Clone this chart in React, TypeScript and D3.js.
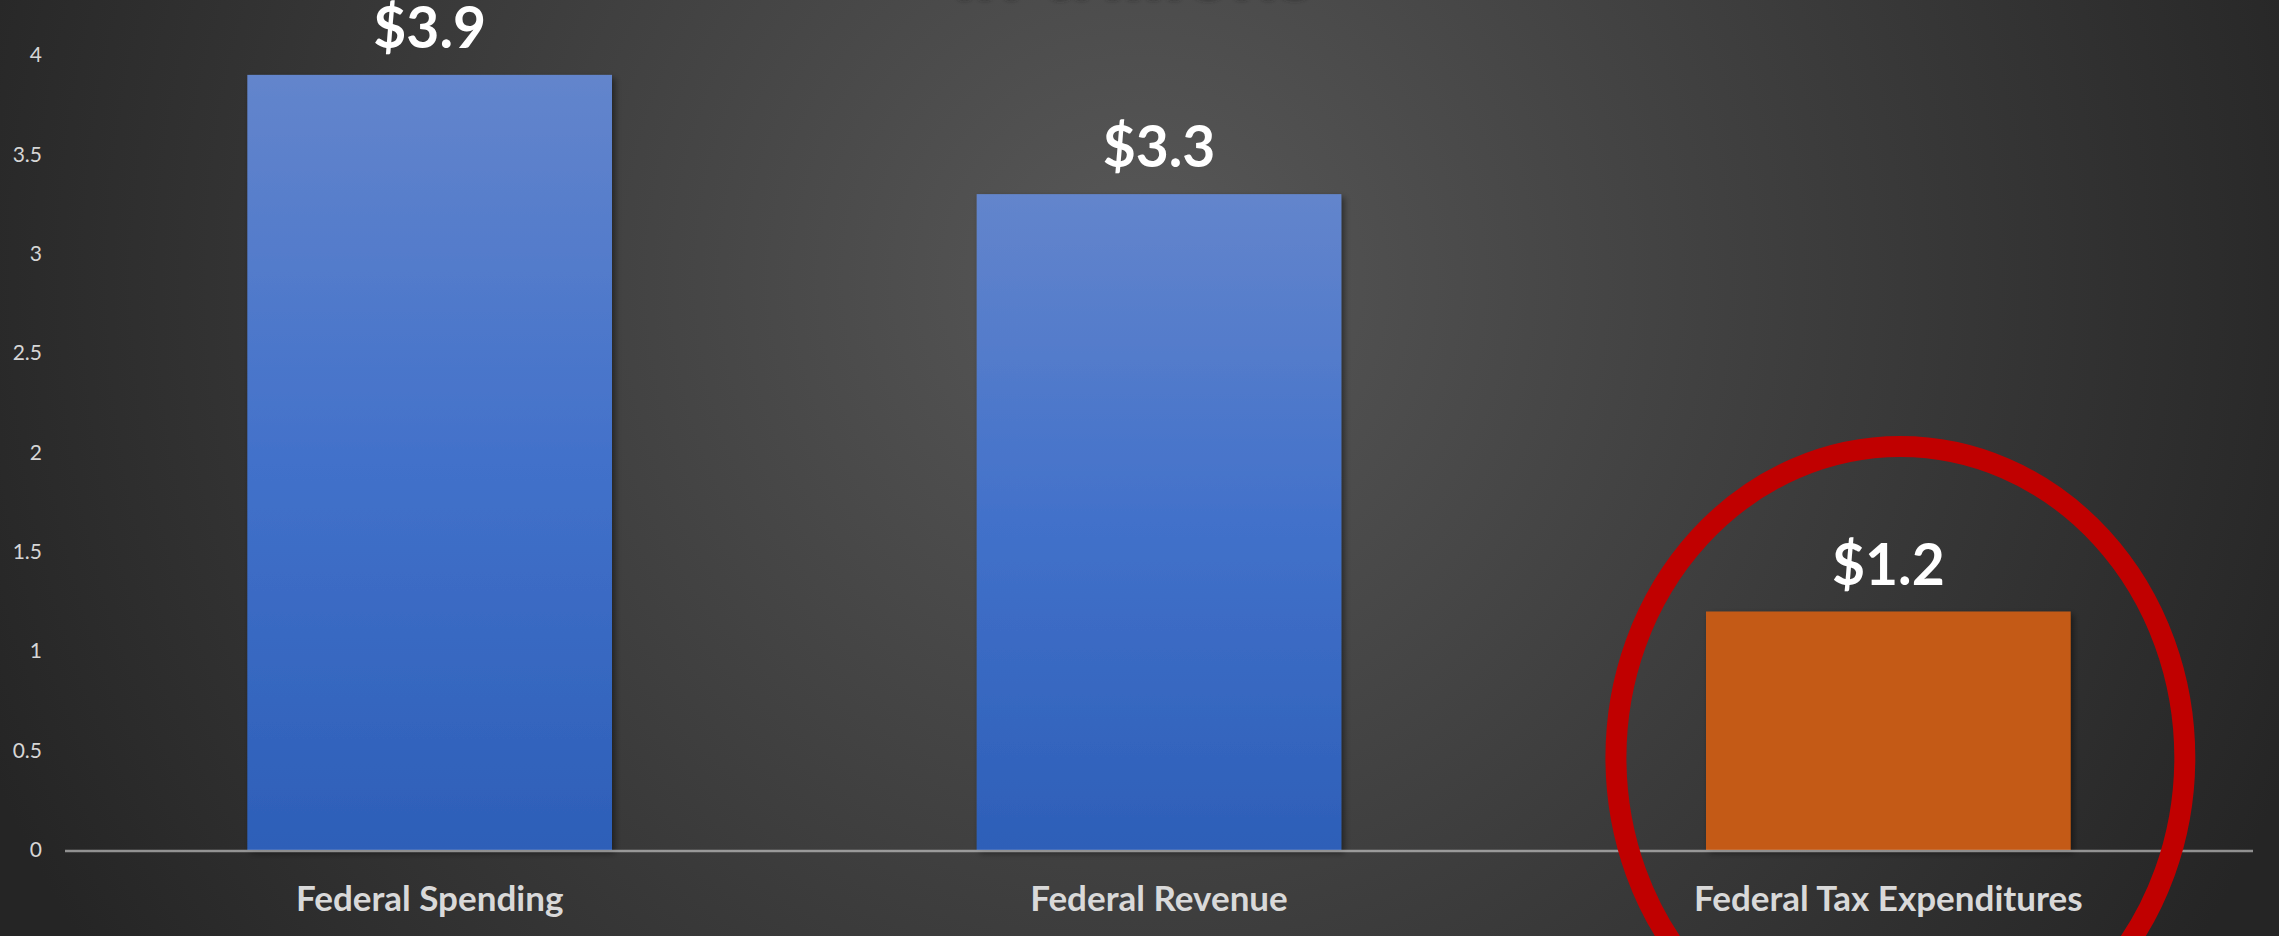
import React, { useEffect, useRef } from "react";
import { select, scaleBand, scaleLinear, axisLeft } from "d3";

const categories = ["Federal Spending", "Federal Revenue", "Federal Tax Expenditures"];
const values = [3.9, 3.3, 1.2];
const valueLabels = ["$3.9", "$3.3", "$1.2"];
const yTicks = [0, 0.5, 1, 1.5, 2, 2.5, 3, 3.5, 4];
const highlighted = "Federal Tax Expenditures";
const subtitle = "in trillions";

const W = 2279;
const H = 936;
const FONT = "Lato, 'Open Sans', sans-serif";

const App = () => {
  const ref = useRef<SVGSVGElement>(null);

  useEffect(() => {
    const svg = select(ref.current);
    svg.selectAll("*").remove();

    const x = scaleBand<string>()
      .domain(categories)
      .range([65, 2253])
      .paddingInner(0.5)
      .paddingOuter(0.25);
    const y = scaleLinear().domain([0, 4]).range([850, 55]);

    const defs = svg.append("defs");
    const bg = defs
      .append("radialGradient")
      .attr("id", "bg")
      .attr("gradientUnits", "userSpaceOnUse")
      .attr("cx", 1140)
      .attr("cy", 280)
      .attr("r", 1250);
    bg.append("stop").attr("offset", 0).attr("stop-color", "#585858");
    bg.append("stop").attr("offset", 1).attr("stop-color", "#252525");

    const blue = defs
      .append("linearGradient")
      .attr("id", "blue")
      .attr("x1", 0)
      .attr("y1", 0)
      .attr("x2", 0)
      .attr("y2", 1);
    blue.append("stop").attr("offset", 0).attr("stop-color", "#6385cc");
    blue.append("stop").attr("offset", 0.5).attr("stop-color", "#4271ca");
    blue.append("stop").attr("offset", 1).attr("stop-color", "#2d5fb8");

    const shadow = defs.append("filter").attr("id", "shadow").attr("x", "-10%").attr("y", "-10%").attr("width", "130%").attr("height", "130%");
    shadow
      .append("feDropShadow")
      .attr("dx", 3)
      .attr("dy", 3)
      .attr("stdDeviation", 3)
      .attr("flood-color", "#000")
      .attr("flood-opacity", 0.45);

    const blur = defs.append("filter").attr("id", "blur");
    blur.append("feGaussianBlur").attr("stdDeviation", 2.5);

    svg.append("rect").attr("width", W).attr("height", H).attr("fill", "url(#bg)");

    // title, mostly cropped off the top (as in the original slide)
    svg
      .append("text")
      .attr("x", 1134)
      .attr("y", -1)
      .attr("text-anchor", "middle")
      .attr("font-family", FONT)
      .attr("font-weight", 700)
      .attr("font-size", 82)
      .attr("fill", "#2a2a2a")
      .attr("filter", "url(#blur)")
      .text(subtitle);

    // y axis (labels only)
    const yAxis = axisLeft(y).tickValues(yTicks).tickSize(0).tickPadding(23).tickFormat((d) => String(d));
    const gy = svg.append("g").attr("transform", "translate(65,0)").call(yAxis);
    gy.select(".domain").remove();
    gy.selectAll("text")
      .attr("font-family", FONT)
      .attr("font-size", 21)
      .attr("fill", "#d6d6d6");

    // bars
    svg
      .selectAll(".bar")
      .data(values)
      .join("rect")
      .attr("class", "bar")
      .attr("x", (d, i) => x(categories[i]) ?? 0)
      .attr("y", (d) => y(d))
      .attr("width", x.bandwidth())
      .attr("height", (d) => y(0) - y(d))
      .attr("fill", (d, i) => (categories[i] === highlighted ? "#c45a13" : "url(#blue)"))
      .attr("filter", "url(#shadow)");

    // baseline
    svg
      .append("line")
      .attr("x1", 65)
      .attr("x2", 2253)
      .attr("y1", y(0) + 1)
      .attr("y2", y(0) + 1)
      .attr("stroke", "#d9d9d9")
      .attr("stroke-opacity", 0.6)
      .attr("stroke-width", 2.5);

    // value labels
    svg
      .selectAll(".val")
      .data(values)
      .join("text")
      .attr("class", "val")
      .attr("x", (d, i) => (x(categories[i]) ?? 0) + x.bandwidth() / 2)
      .attr("y", (d) => y(d) - 27)
      .attr("text-anchor", "middle")
      .attr("font-family", FONT)
      .attr("font-weight", 700)
      .attr("font-size", 57)
      .attr("fill", "#ffffff")
      .text((d, i) => valueLabels[i]);

    // category labels
    svg
      .selectAll(".cat")
      .data(categories)
      .join("text")
      .attr("class", "cat")
      .attr("x", (d) => (x(d) ?? 0) + x.bandwidth() / 2)
      .attr("y", 911)
      .attr("text-anchor", "middle")
      .attr("font-family", FONT)
      .attr("font-weight", 700)
      .attr("font-size", 35)
      .attr("fill", "#d9d9d9")
      .text((d) => d);

    // red circle annotation around the highlighted bar
    const cx = (x(highlighted) ?? 0) + x.bandwidth() / 2 + x.bandwidth() * 0.033;
    const top = y(2.03);
    const bottom = y(-1.1);
    svg
      .append("ellipse")
      .attr("cx", cx)
      .attr("cy", (top + bottom) / 2)
      .attr("rx", x.bandwidth() * 0.78)
      .attr("ry", (bottom - top) / 2)
      .attr("fill", "none")
      .attr("stroke", "#c00000")
      .attr("stroke-width", 21);
  }, []);

  return (
    <svg
      ref={ref}
      width={W}
      height={H}
      style={{ position: "absolute", left: 0, top: 0, display: "block" }}
    ></svg>
  );
};

export default App;
